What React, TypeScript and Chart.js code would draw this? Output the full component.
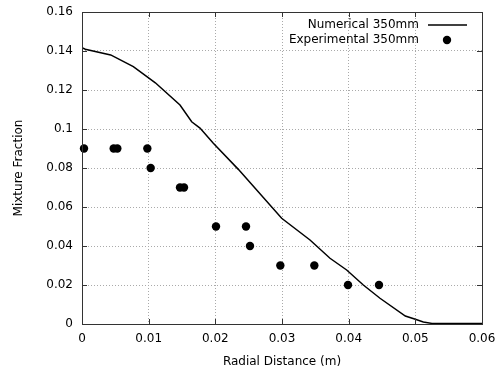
import React, { useEffect, useRef } from "react";
import { Chart, registerables } from "chart.js";

Chart.register(...registerables);

const numericalX = [0, 0.0005, 0.0043, 0.0077, 0.011, 0.0147, 0.01645, 0.0177, 0.0197, 0.02345, 0.02995, 0.0342, 0.0372, 0.0397, 0.0422, 0.0447, 0.0485, 0.05, 0.0512, 0.0525, 0.06];
const numericalY = [0.1417, 0.1409, 0.138, 0.132, 0.1237, 0.1123, 0.1037, 0.1005, 0.0927, 0.0793, 0.0542, 0.0431, 0.0337, 0.0277, 0.02, 0.0132, 0.0041, 0.0024, 0.001, 0.0003, 0.0002];

const expX = [0.0003, 0.00475, 0.0053, 0.0098, 0.0103, 0.0147, 0.0153, 0.0201, 0.0246, 0.0252, 0.02975, 0.03485, 0.0399, 0.04455];
const expY = [0.09, 0.09, 0.09, 0.09, 0.08, 0.07, 0.07, 0.05, 0.05, 0.04, 0.03, 0.03, 0.02, 0.02];

const seriesLabels = ["Numerical 350mm", "Experimental 350mm"];
const xTitle = "Radial Distance (m)";
const yTitle = "Mixture Fraction";

const FONT = "DejaVu Sans";

const fmt = (v: number | string) => String(parseFloat(Number(v).toFixed(4)));

const framePlugin = {
  id: "frame",
  afterDraw(chart: any) {
    const { ctx, chartArea: a, scales } = chart;
    ctx.save();
    ctx.strokeStyle = "#333";
    ctx.lineWidth = 1;
    const tl = 5;
    ctx.beginPath();
    scales.x.ticks.forEach((t: any) => {
      const px = Math.round(scales.x.getPixelForValue(t.value)) + 0.5;
      ctx.moveTo(px, a.bottom);
      ctx.lineTo(px, a.bottom - tl);
      ctx.moveTo(px, a.top);
      ctx.lineTo(px, a.top + tl);
    });
    scales.y.ticks.forEach((t: any) => {
      const py = Math.round(scales.y.getPixelForValue(t.value)) + 0.5;
      ctx.moveTo(a.left, py);
      ctx.lineTo(a.left + tl, py);
      ctx.moveTo(a.right, py);
      ctx.lineTo(a.right - tl, py);
    });
    ctx.stroke();
    ctx.strokeRect(Math.round(a.left) + 0.5, Math.round(a.top) + 0.5, Math.round(a.right - a.left), Math.round(a.bottom - a.top));

    ctx.font = `12px "${FONT}"`;
    ctx.fillStyle = "#000";
    ctx.textAlign = "right";
    ctx.textBaseline = "middle";
    const tx = a.right - 63;
    const y1 = a.top + 13;
    const y2 = a.top + 28;
    ctx.fillText(seriesLabels[0], tx, y1);
    ctx.fillText(seriesLabels[1], tx, y2);
    ctx.strokeStyle = "#000";
    ctx.lineWidth = 1.5;
    ctx.beginPath();
    ctx.moveTo(tx + 9, y1);
    ctx.lineTo(tx + 48, y1);
    ctx.stroke();
    ctx.beginPath();
    ctx.arc(tx + 28, y2, 4.2, 0, Math.PI * 2);
    ctx.fill();
    ctx.restore();
  },
};

export default function App() {
  const ref = useRef<HTMLCanvasElement>(null);
  useEffect(() => {
    document.body.style.margin = "0";
    const chart = new Chart(ref.current!, {
      type: "scatter",
      data: {
        datasets: [
          {
            label: seriesLabels[0],
            data: numericalX.map((x, i) => ({ x, y: numericalY[i] })),
            showLine: true,
            borderColor: "#000",
            borderWidth: 1.5,
            pointRadius: 0,
            tension: 0,
          },
          {
            label: seriesLabels[1],
            data: expX.map((x, i) => ({ x, y: expY[i] })),
            showLine: false,
            backgroundColor: "#000",
            borderColor: "#000",
            pointRadius: 4.2,
            pointBorderWidth: 0,
            clip: false,
          },
        ],
      },
      options: {
        animation: false,
        responsive: false,
        layout: { padding: { top: 12, right: 16, left: 0, bottom: 0 } },
        plugins: { legend: { display: false }, tooltip: { enabled: false } },
        scales: {
          x: {
            type: "linear",
            min: 0,
            max: 0.06,
            ticks: {
              stepSize: 0.01,
              callback: (v: any) => fmt(v),
              color: "#000",
              font: { family: FONT, size: 12 },
              padding: 8,
              maxRotation: 0,
            },
            grid: { color: "#aaa", drawTicks: false },
            border: { display: false, dash: [1, 2] },
            title: { display: true, text: xTitle, color: "#000", font: { family: FONT, size: 12 }, padding: { top: 8, bottom: 0 } },
            afterFit: (s: any) => { s.height = 45; s.paddingLeft = 0; s.paddingRight = 0; },
          },
          y: {
            type: "linear",
            min: 0,
            max: 0.16,
            ticks: {
              stepSize: 0.02,
              callback: (v: any) => fmt(v),
              color: "#000",
              font: { family: FONT, size: 12 },
              padding: 9,
            },
            grid: { color: "#aaa", drawTicks: false },
            border: { display: false, dash: [1, 2] },
            title: { display: true, text: yTitle, color: "#000", font: { family: FONT, size: 12 }, padding: { top: 12, bottom: 0 } },
            afterFit: (s: any) => { s.width = 82; s.paddingTop = 0; s.paddingBottom = 0; },
          },
        },
      } as any,
      plugins: [framePlugin],
    });
    return () => chart.destroy();
  }, []);
  return (
    <div style={{ width: 498, height: 369 }}>
      <canvas ref={ref} width={498} height={369} style={{ width: 498, height: 369 }} />
    </div>
  );
}
